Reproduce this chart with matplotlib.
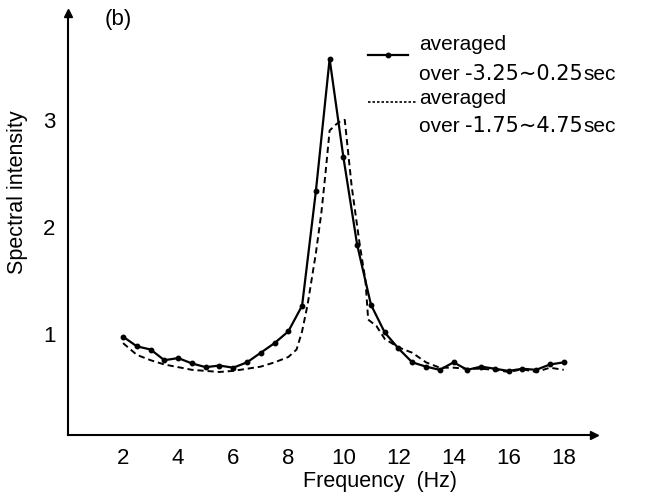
import matplotlib
matplotlib.use("Agg")
import matplotlib.pyplot as plt
from matplotlib import font_manager

# ---- data ----
freq_solid = [2.0, 2.5, 3.0, 3.5, 4.0, 4.5, 5.0, 5.5, 6.0, 6.5, 7.0, 7.5, 8.0, 8.5,
              9.0, 9.5, 10.0, 10.5, 11.0, 11.5, 12.0, 12.5, 13.0, 13.5, 14.0, 14.5,
              15.0, 15.5, 16.0, 16.5, 17.0, 17.5, 18.0]
spec_solid = [0.97, 0.88, 0.85, 0.75, 0.77, 0.72, 0.685, 0.70, 0.68, 0.73, 0.82, 0.91,
              1.02, 1.26, 2.33, 3.57, 2.65, 1.83, 1.27, 1.01, 0.86, 0.73, 0.69, 0.66,
              0.73, 0.66, 0.69, 0.67, 0.65, 0.67, 0.66, 0.71, 0.73]

freq_dash = [2.0, 2.5, 3.0, 3.5, 4.0, 4.5, 5.0, 5.5, 6.0, 6.5, 7.0, 7.5, 8.0, 8.3, 8.5,
             8.7, 9.0, 9.2, 9.35, 9.5, 9.7, 9.85, 10.05, 10.15, 10.3, 10.6, 10.8, 10.9,
             11.2, 11.5, 12.0, 12.5, 13.0, 13.5, 14.0, 14.5, 15.0, 15.5, 16.0, 16.5,
             17.0, 17.5, 18.0]
spec_dash = [0.91, 0.80, 0.75, 0.71, 0.685, 0.66, 0.65, 0.64, 0.65, 0.67, 0.69, 0.73,
             0.78, 0.85, 1.02, 1.27, 1.75, 2.13, 2.50, 2.90, 2.95, 2.98, 3.00, 2.75,
             2.38, 1.82, 1.50, 1.13, 1.07, 0.95, 0.87, 0.82, 0.73, 0.68, 0.68, 0.67,
             0.67, 0.66, 0.64, 0.665, 0.64, 0.68, 0.66]

xticks = [2, 4, 6, 8, 10, 12, 14, 16, 18]
yticks = [1, 2, 3]

legend_lines = ["averaged", "over ", "-3.25\u223c0.25", "sec",
                "averaged", "over ", "-1.75\u223c4.75", "sec"]


def has_font(name):
    try:
        font_manager.findfont(name, fallback_to_default=False)
        return True
    except Exception:
        return False

REG = "Liberation Sans" if has_font("Liberation Sans") else "DejaVu Sans"
NAR = "Liberation Sans Narrow" if has_font("Liberation Sans Narrow") else REG

W, H = 656, 494
fig = plt.figure(figsize=(W / 100, H / 100), dpi=100)
fig.patch.set_facecolor("white")

def fx(px):
    return px / W

def fy(py):
    return 1 - py / H

ax = fig.add_axes([fx(68), fy(435), fx(594) - fx(68), fy(13) - fy(435)])
ax.set_xlim(0, 19.1)
ax.set_ylim(0.05, 4.0)

ax.plot(freq_solid, spec_solid, color="black", lw=1.6, marker="o", ms=3.2,
        clip_on=False, zorder=3)
ax.plot(freq_dash, spec_dash, color="black", lw=1.4, ls=(0, (3.2, 2.0)),
        clip_on=False, zorder=2)

for s in ["top", "right"]:
    ax.spines[s].set_visible(False)
for s in ["left", "bottom"]:
    ax.spines[s].set_linewidth(1.5)
ax.plot([1], [0], marker=">", color="black", ms=6, transform=ax.transAxes,
        clip_on=False)
ax.plot([0], [1], marker="^", color="black", ms=6, transform=ax.transAxes,
        clip_on=False)

ax.set_xticks(xticks)
ax.set_yticks(yticks)
ax.tick_params(length=0, pad=9)
for lab in ax.get_xticklabels() + ax.get_yticklabels():
    lab.set_fontfamily(NAR)
    lab.set_fontsize(16)

fig.text(fx(380), fy(481), "Frequency  (Hz)", family=REG, fontsize=15.5,
         ha="center", va="center")
fig.text(fx(18), fy(192), "Spectral intensity", family=REG, fontsize=15.5,
         rotation=90, ha="center", va="center")
fig.text(fx(118), fy(20), "(b)", family=REG, fontsize=16, ha="center", va="center")

# legend samples
ax_leg = fig.add_axes([0, 0, 1, 1], facecolor="none")
ax_leg.set_xlim(0, W)
ax_leg.set_ylim(H, 0)
ax_leg.axis("off")
ax_leg.plot([368, 408], [55, 55], color="black", lw=1.6)
ax_leg.plot([388], [55], marker="o", color="black", ms=3.2)
ax_leg.plot([368, 416], [102, 102], color="black", lw=1.2, ls=(0, (1.5, 1.2)))

fig.text(fx(419), fy(44), legend_lines[0], family=REG, fontsize=15, va="center")
fig.text(fx(419), fy(98), legend_lines[4], family=REG, fontsize=15, va="center")

fig.canvas.draw()
renderer = fig.canvas.get_renderer()
for base_y, parts in [(80, legend_lines[1:4]), (132, legend_lines[5:8])]:
    x0 = 419
    specs = [(parts[0], REG, 15), (parts[1], "DejaVu Sans", 15), (parts[2], REG, 15)]
    for txt, fam, size in specs:
        t = fig.text(fx(x0), fy(base_y), txt, family=fam, fontsize=size,
                     va="baseline", ha="left")
        bb = t.get_window_extent(renderer)
        x0 = bb.x1

fig.savefig("out.png", dpi=100, facecolor="white")
